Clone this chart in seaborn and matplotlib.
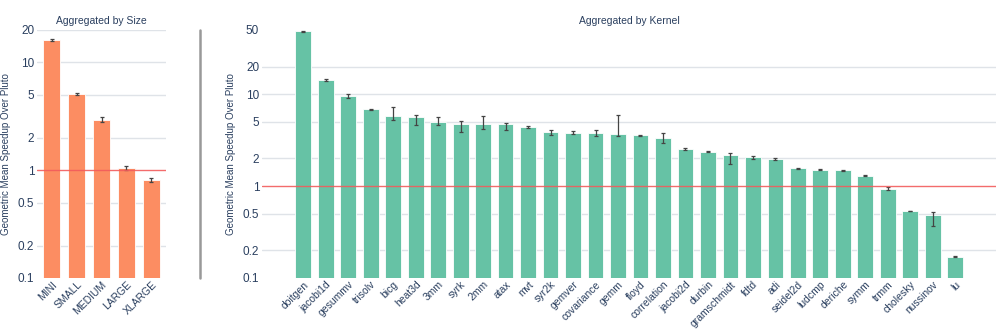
import numpy as np
import matplotlib
matplotlib.use("Agg")
import matplotlib.pyplot as plt
from matplotlib.lines import Line2D
import seaborn as sns
import pandas as pd

# speedup aggregated by problem size
sizes = ["MINI", "SMALL", "MEDIUM", "LARGE", "XLARGE"]
size_speedup = [16.1, 5.1, 2.92, 1.05, 0.81]
size_lo = [15.8, 5.0, 2.78, 1.00, 0.77]
size_hi = [16.4, 5.2, 3.10, 1.10, 0.85]

# speedup aggregated by kernel
kernels = ["doitgen", "jacobi1d", "gesummv", "trisolv", "bicg", "heat3d", "3mm", "syrk", "2mm",
           "atax", "mvt", "syr2k", "gemver", "covariance", "gemm", "floyd", "correlation",
           "jacobi2d", "durbin", "gramschmidt", "fdtd", "adi", "seidel2d", "ludcmp", "deriche",
           "symm", "trmm", "cholesky", "nussinov", "lu"]
kernel_speedup = [48.5, 14.2, 9.6, 6.85, 5.75, 5.7, 5.0, 4.8, 4.8, 4.75, 4.42, 3.87, 3.8, 3.8,
                  3.66, 3.58, 3.36, 2.55, 2.38, 2.17, 2.06, 1.97, 1.56, 1.50, 1.48, 1.30, 0.94,
                  0.535, 0.49, 0.17]
kernel_lo = [48.0, 13.8, 9.2, 6.75, 5.3, 4.6, 4.6, 3.9, 4.2, 4.1, 4.32, 3.6, 3.65, 3.5,
             3.5, 3.52, 2.96, 2.5, 2.34, 1.75, 1.98, 1.92, 1.53, 1.48, 1.46, 1.29, 0.90,
             0.53, 0.37, 0.168]
kernel_hi = [49.0, 14.6, 10.0, 6.95, 7.2, 6.0, 5.7, 5.1, 5.8, 4.9, 4.52, 4.1, 3.95, 4.1,
             6.0, 3.64, 3.78, 2.6, 2.42, 2.28, 2.14, 2.02, 1.59, 1.52, 1.50, 1.31, 0.98,
             0.54, 0.52, 0.172]

sns.set_theme(style="white")
plt.rcParams["font.family"] = ["Liberation Sans", "DejaVu Sans"]
text_color = "#2a3f5f"

fig = plt.figure(figsize=(9.96, 3.30), dpi=100)
ax1 = fig.add_axes([37 / 996, 52 / 330, 129 / 996, 248 / 330])
ax2 = fig.add_axes([262 / 996, 52 / 330, 734.5 / 996, 248 / 330])

df_size = pd.DataFrame({"size": sizes, "speedup": size_speedup})
df_kernel = pd.DataFrame({"kernel": kernels, "speedup": kernel_speedup})

sns.barplot(data=df_size, x="size", y="speedup", color="#fc8d62", saturation=1,
            width=0.7, edgecolor="white", linewidth=0.6, errorbar=None, ax=ax1, zorder=2)
sns.barplot(data=df_kernel, x="kernel", y="speedup", color="#66c2a5", saturation=1,
            width=0.7, edgecolor="white", linewidth=0.6, errorbar=None, ax=ax2, zorder=2)

panels = [
    (ax1, size_speedup, size_lo, size_hi, (0.1, 20), [0.1, 0.2, 0.5, 1, 2, 5, 10, 20], "Aggregated by Size"),
    (ax2, kernel_speedup, kernel_lo, kernel_hi, (0.1, 50), [0.1, 0.2, 0.5, 1, 2, 5, 10, 20, 50], "Aggregated by Kernel"),
]
for ax, vals, lo, hi, lim, ticks, title in panels:
    vals = np.array(vals)
    yerr = [vals - np.array(lo), np.array(hi) - vals]
    ax.errorbar(np.arange(len(vals)), vals, yerr=yerr, fmt="none", ecolor="#444444",
                elinewidth=0.9, capsize=1.5, capthick=0.9, zorder=3)
    ax.set_yscale("log")
    ax.set_ylim(*lim)
    ax.set_yticks(ticks)
    ax.set_yticklabels([f"{t:g}" for t in ticks])
    ax.minorticks_off()
    for t in ticks:
        if t not in (1, lim[0], 50):
            ax.axhline(t, color="#dfe3e8", linewidth=1, zorder=0)
    ax.axhline(1, color="#f25c5c", linewidth=1, alpha=0.9, zorder=4)
    for s in ax.spines.values():
        s.set_visible(False)
    ax.tick_params(axis="y", length=0, pad=2, labelsize=8.5, labelcolor=text_color)
    ax.tick_params(axis="x", length=0, pad=1, labelsize=7.5, labelcolor=text_color)
    plt.setp(ax.get_xticklabels(), rotation=45, ha="right", rotation_mode="anchor")
    ax.set_xlabel("")
    ax.set_ylabel("Geometric Mean Speedup Over Pluto", fontsize=7, color=text_color, labelpad=5)
    ax.set_title(title, fontsize=7.5, color=text_color, pad=4)

# divider between the two panels
fig.add_artist(Line2D([200 / 996, 200 / 996], [52 / 330, 300 / 330], color="#999999", linewidth=1.8))

plt.savefig("out.png", dpi=100)
